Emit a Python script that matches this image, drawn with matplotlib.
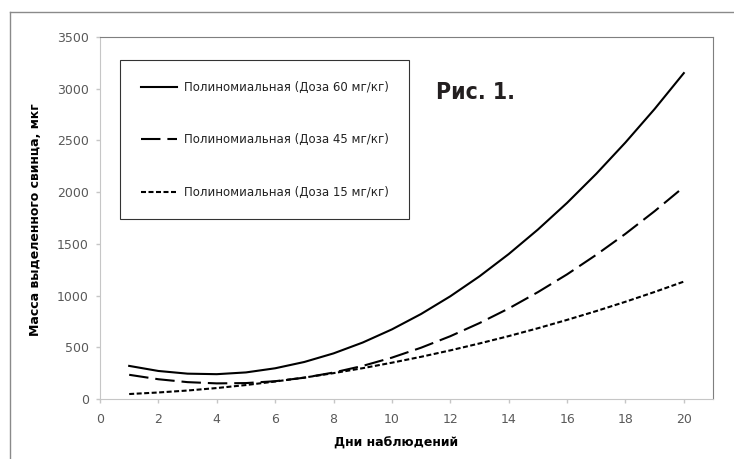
import matplotlib
matplotlib.use("Agg")
import matplotlib.pyplot as plt
from matplotlib.lines import Line2D

days = [1, 2, 3, 4, 5, 6, 7, 8, 9, 10, 11, 12, 13, 14, 15, 16, 17, 18, 19, 20]
dose_60 = [320, 271, 245, 240, 257, 297, 358, 441, 546, 673,
           822, 993, 1186, 1401, 1638, 1896, 2177, 2480, 2804, 3151]
dose_45 = [234, 191, 163, 151, 154, 172, 206, 256, 320, 400,
           496, 607, 734, 875, 1033, 1205, 1394, 1597, 1816, 2050]
dose_15 = [48, 63, 82, 106, 135, 169, 207, 250, 298, 351,
           408, 470, 537, 608, 684, 765, 850, 940, 1035, 1135]

labels = ["Полиномиальная (Доза 60 мг/кг)",
          "Полиномиальная (Доза 45 мг/кг)",
          "Полиномиальная (Доза 15 мг/кг)"]
x_ticks = list(range(0, 21, 2))
y_ticks = list(range(0, 3501, 500))

plt.rcParams['font.family'] = ['DejaVu Sans']
plt.rcParams['lines.scale_dashes'] = False

LIGHT = '#c6c6c6'
DARK = '#7f7f7f'
TXT = '#595959'


def main():
    fig = plt.figure(figsize=(7.34, 4.59), dpi=100)
    ax = fig.add_axes([100 / 734, 1 - 399 / 459, 613 / 734, 362 / 459])

    ax.plot(days, dose_60, color='black', lw=1.5, label=labels[0])
    ax.plot(days, dose_45, color='black', lw=1.5, dashes=(14, 5), label=labels[1])
    ax.plot(days, dose_15, color='black', lw=1.5, dashes=(3.6, 1.8), label=labels[2])

    ax.set_xlim(0, 21)
    ax.set_ylim(0, 3500)
    ax.set_xticks(x_ticks)
    ax.set_yticks(y_ticks)
    ax.tick_params(direction='out', length=3, width=1, color=LIGHT,
                   labelcolor=TXT, labelsize=9)
    ax.tick_params(axis='y', pad=5)
    ax.tick_params(axis='x', pad=7)

    for side in ['left', 'bottom']:
        ax.spines[side].set_color(LIGHT)
    for side in ['top', 'right']:
        ax.spines[side].set_color(DARK)

    ax.set_xlabel('Дни наблюдений', fontsize=9, fontweight='bold')
    ax.xaxis.set_label_coords(0.483, -0.103)
    ax.set_ylabel('Масса выделенного свинца, мкг', fontsize=9, fontweight='bold')
    ax.yaxis.set_label_coords(-0.094, 0.494)

    leg = ax.legend(loc='upper left', bbox_to_anchor=(0.0326, 0.9365),
                    fontsize=8.5, frameon=True, fancybox=False,
                    handlelength=3.1, handletextpad=0.55, labelspacing=3.35,
                    borderpad=1.75, borderaxespad=0)
    leg.get_frame().set_edgecolor('black')
    leg.get_frame().set_linewidth(0.8)
    for t in leg.get_texts():
        t.set_color('#222222')

    ax.text(0.548, 0.848, 'Рис. 1.', transform=ax.transAxes, fontsize=16.5,
            fontweight='bold', fontstretch='condensed', color='#231f20',
            va='center', ha='left')

    # outer chart frame, cut off at the right and bottom
    fig.add_artist(Line2D([9.5 / 734, 1.0], [1 - 12 / 459, 1 - 12 / 459],
                          transform=fig.transFigure, color='#8a8a8a', lw=1))
    fig.add_artist(Line2D([9.5 / 734, 9.5 / 734], [0, 1 - 12 / 459],
                          transform=fig.transFigure, color='#8a8a8a', lw=1))

    fig.savefig('out.png', dpi=100)


if __name__ == "__main__":
    main()
